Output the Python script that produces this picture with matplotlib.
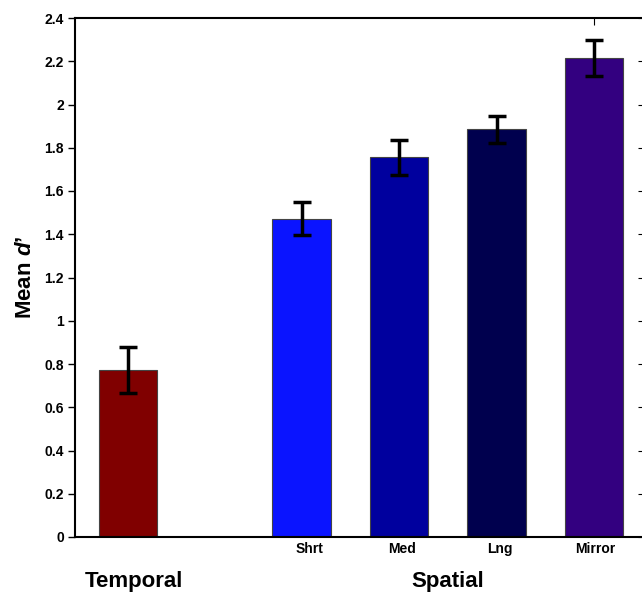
"""
Mean d' per condition, temporal vs spatial bars
"""
import numpy as np
import matplotlib.pyplot as plt
from matplotlib.ticker import FormatStrFormatter

plt.rcParams['font.family'] = ['Liberation Sans', 'DejaVu Sans']
plt.rcParams['mathtext.fontset'] = 'custom'
plt.rcParams['mathtext.bfit'] = 'Liberation Sans:bold:italic'
plt.rcParams['mathtext.rm'] = 'Liberation Sans:bold'

# data
conditions = ['Temporal', 'Shrt', 'Med', 'Lng', 'Mirror']
mean_d = [0.772, 1.472, 1.755, 1.885, 2.215]
err = [0.105, 0.075, 0.082, 0.063, 0.081]
bar_colors = ['#800000', '#0a14ff', '#00009e', '#00004e', '#330080']
sub_labels = ['', 'Shrt', 'Med', 'Lng', 'Mirror']
groups = ['Temporal', 'Spatial']

# plot
pos = np.array([1, 2.78, 3.78, 4.78, 5.78])
width = 0.6

fig = plt.figure(figsize=(6.42, 5.92), dpi=100)
# right spine sits just past the figure edge, like the reference crop
ax = fig.add_axes([75 / 642, 55 / 592, 570 / 642, 519 / 592])

ax.bar(pos, mean_d, width, color=bar_colors, edgecolor='#444444', linewidth=0.8, zorder=2)
ax.errorbar(pos, mean_d, yerr=err, fmt='none', ecolor='black', elinewidth=2.5,
            capsize=6.5, capthick=2.5, zorder=3)

ax.set_xlim(0.456, 0.456 + 570 / 97.5)
ax.set_ylim(0, 2.4)
ax.set_yticks(np.arange(0, 2.41, 0.2))
ax.yaxis.set_major_formatter(FormatStrFormatter('%g'))
ax.tick_params(axis='y', direction='out', length=5, width=1, labelsize=10, pad=3)
for lab in ax.get_yticklabels():
    lab.set_fontweight('bold')

# right side ticks point inward
sec = ax.secondary_yaxis('right')
sec.set_yticks(np.arange(0, 2.41, 0.2))
sec.tick_params(direction='in', length=5, labelright=False)

ax.set_xticks([pos[-1]])
ax.tick_params(axis='x', top=True, bottom=False, direction='in', length=5,
               labelbottom=False)

for s in ax.spines.values():
    s.set_linewidth(1.5)

ax.set_ylabel("Mean $\\mathbfit{d}$’", fontsize=16, fontweight='bold', labelpad=6)

# labels under bars (slightly right of bar centres, as in the original)
trans = ax.get_xaxis_transform()
nudge = [0, 0.08, 0.03, 0.03, 0.01]
for p, dx, lab in zip(pos, nudge, sub_labels):
    ax.text(p + dx, -0.023, lab, transform=trans, ha='center', va='center',
            fontsize=10, fontweight='bold')
ax.text(1.06, -0.085, groups[0], transform=trans, ha='center', va='center',
        fontsize=16, fontweight='bold')
ax.text(4.28, -0.085, groups[1], transform=trans, ha='center', va='center',
        fontsize=16, fontweight='bold')

fig.savefig('out.png', dpi=100)
